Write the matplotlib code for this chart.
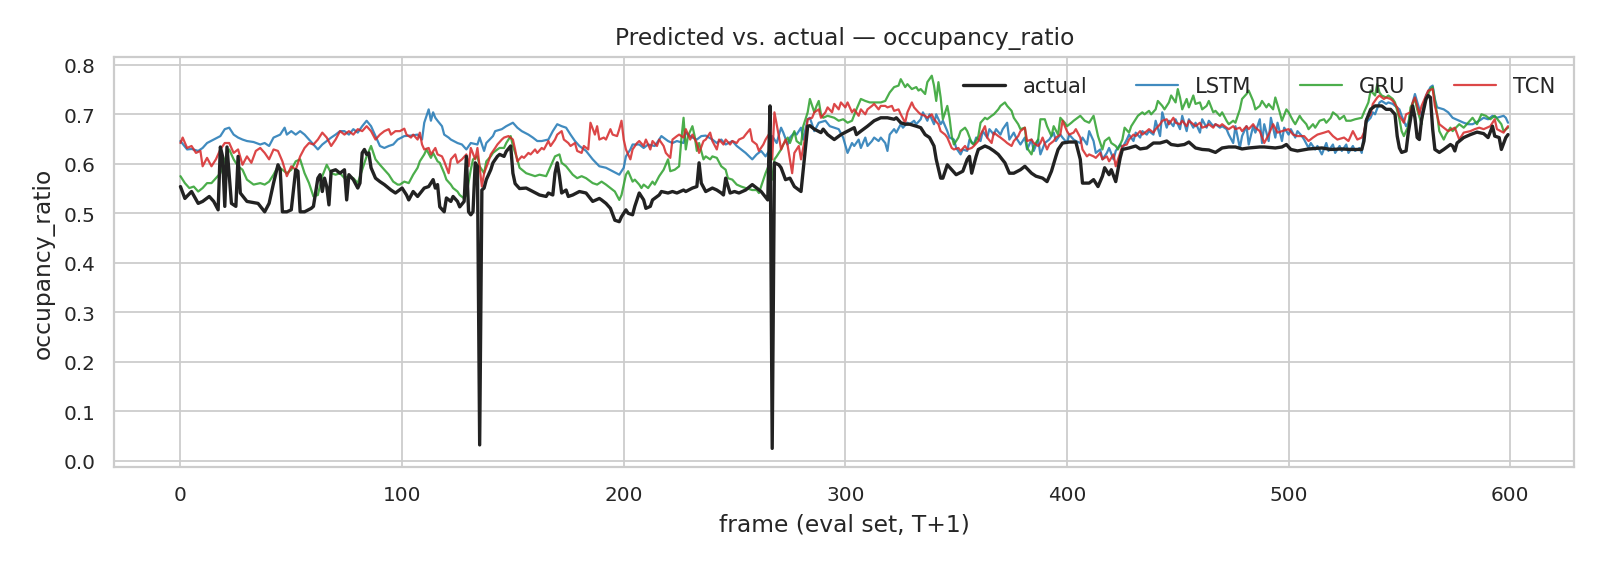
import matplotlib
matplotlib.use("Agg")
import matplotlib.pyplot as plt
import seaborn as sns

# --- data (frame, value) ---
actual_pts = [
    (0, 0.554), (2, 0.530), (5, 0.544), (8, 0.520), (10, 0.524), (13, 0.534), (15, 0.524), (17, 0.507),
    (18, 0.634), (19, 0.615), (20, 0.514), (21, 0.634), (23, 0.520), (25, 0.514), (26, 0.615), (27, 0.541),
    (30, 0.524), (35, 0.520), (38, 0.503), (40, 0.520), (42, 0.561), (44, 0.598), (45, 0.588), (46, 0.503),
    (48, 0.503), (50, 0.507), (52, 0.588), (53, 0.585), (54, 0.503), (56, 0.503), (59, 0.510), (60, 0.514),
    (62, 0.571), (63, 0.578), (64, 0.544), (65, 0.571), (66, 0.554), (67, 0.517), (68, 0.585), (70, 0.588),
    (72, 0.581), (74, 0.588), (75, 0.527), (76, 0.578), (78, 0.568), (80, 0.551), (81, 0.561), (82, 0.622),
    (83, 0.629), (84, 0.619), (85, 0.622), (86, 0.592), (88, 0.571), (90, 0.564), (92, 0.558), (95, 0.547),
    (97, 0.541), (100, 0.551), (102, 0.537), (103, 0.527), (105, 0.544), (107, 0.534), (110, 0.551),
    (112, 0.554), (114, 0.568), (115, 0.551), (116, 0.558), (117, 0.513), (119, 0.503), (120, 0.531),
    (122, 0.524), (123, 0.534), (125, 0.524), (126, 0.513), (128, 0.524), (129, 0.615), (130, 0.503),
    (131, 0.497), (132, 0.503), (133, 0.602), (134, 0.595), (135, 0.032), (136, 0.547), (137, 0.551),
    (138, 0.568), (140, 0.588), (141, 0.602), (143, 0.615), (144, 0.619), (146, 0.615), (147, 0.625),
    (149, 0.636), (150, 0.581), (151, 0.560), (153, 0.550), (156, 0.551), (159, 0.544), (162, 0.537),
    (165, 0.534), (166, 0.541), (168, 0.537), (169, 0.581), (170, 0.602), (171, 0.575), (172, 0.541),
    (174, 0.547), (175, 0.534), (177, 0.537), (180, 0.544), (183, 0.541), (186, 0.524), (189, 0.530),
    (190, 0.527), (192, 0.520), (194, 0.510), (196, 0.486), (198, 0.483), (199, 0.493), (201, 0.507),
    (202, 0.500), (204, 0.497), (205, 0.514), (207, 0.541), (209, 0.527), (210, 0.510), (212, 0.514),
    (213, 0.527), (216, 0.537), (217, 0.544), (220, 0.541), (222, 0.544), (224, 0.541), (227, 0.547),
    (228, 0.544), (231, 0.551), (233, 0.554), (234, 0.602), (235, 0.561), (237, 0.544), (240, 0.551),
    (242, 0.547), (244, 0.541), (245, 0.537), (246, 0.571), (248, 0.541), (250, 0.544), (252, 0.541),
    (255, 0.547), (258, 0.558), (260, 0.551), (262, 0.544), (265, 0.527), (266, 0.717), (267, 0.025),
    (268, 0.602), (270, 0.598), (271, 0.592), (273, 0.568), (275, 0.571), (277, 0.554), (280, 0.544),
    (281, 0.588), (283, 0.676), (284, 0.677), (286, 0.670), (289, 0.663), (290, 0.670), (292, 0.659),
    (295, 0.649), (298, 0.659), (301, 0.666), (304, 0.673), (305, 0.659), (307, 0.666), (310, 0.676),
    (313, 0.687), (316, 0.693), (319, 0.693), (322, 0.690), (323, 0.693), (325, 0.683), (327, 0.680),
    (329, 0.680), (332, 0.676), (334, 0.673), (336, 0.659), (338, 0.653), (340, 0.636), (341, 0.609),
    (343, 0.571), (344, 0.571), (346, 0.598), (348, 0.588), (350, 0.578), (353, 0.585), (355, 0.609),
    (356, 0.615), (357, 0.581), (359, 0.615), (360, 0.629), (363, 0.636), (365, 0.632), (367, 0.626),
    (369, 0.619), (372, 0.602), (374, 0.581), (376, 0.581), (379, 0.588), (381, 0.595), (384, 0.581),
    (386, 0.575), (389, 0.571), (391, 0.564), (393, 0.585), (395, 0.615), (396, 0.629), (398, 0.642),
    (401, 0.644), (404, 0.644), (406, 0.609), (407, 0.561), (410, 0.561), (412, 0.568), (414, 0.554),
    (416, 0.575), (417, 0.592), (419, 0.578), (420, 0.588), (422, 0.564), (424, 0.612), (425, 0.629),
    (428, 0.632), (431, 0.636), (433, 0.630), (436, 0.632), (439, 0.642), (442, 0.642), (445, 0.646),
    (447, 0.639), (450, 0.637), (453, 0.639), (455, 0.644), (458, 0.632), (461, 0.629), (464, 0.628),
    (467, 0.623), (470, 0.632), (473, 0.634), (476, 0.634), (479, 0.630), (482, 0.632), (487, 0.634),
    (489, 0.634), (494, 0.632), (497, 0.634), (499, 0.639), (501, 0.629), (504, 0.626), (509, 0.630),
    (515, 0.632), (519, 0.629), (524, 0.630), (528, 0.629), (533, 0.629), (534, 0.646), (535, 0.687),
    (537, 0.710), (539, 0.717), (542, 0.717), (544, 0.710), (546, 0.710), (548, 0.700), (549, 0.656),
    (550, 0.632), (551, 0.623), (553, 0.626), (554, 0.663), (556, 0.717), (557, 0.693), (558, 0.653),
    (559, 0.649), (560, 0.690), (562, 0.731), (563, 0.738), (564, 0.734), (565, 0.670), (566, 0.629),
    (568, 0.623), (570, 0.629), (573, 0.639), (574, 0.636), (575, 0.626), (576, 0.642), (579, 0.653),
    (582, 0.659), (585, 0.664), (588, 0.661), (590, 0.653), (592, 0.676), (593, 0.656), (595, 0.653),
    (596, 0.629), (598, 0.653), (599, 0.659),
]

lstm_pts = [
    (0, 0.646), (3, 0.629), (5, 0.630), (8, 0.626), (10, 0.632), (12, 0.642), (15, 0.649), (18, 0.656),
    (20, 0.670), (22, 0.673), (24, 0.659), (26, 0.653), (28, 0.649), (30, 0.646), (33, 0.644), (36, 0.639),
    (38, 0.642), (40, 0.636), (42, 0.653), (45, 0.659), (47, 0.673), (48, 0.659), (50, 0.666), (52, 0.659),
    (54, 0.666), (56, 0.659), (58, 0.649), (60, 0.639), (62, 0.629), (64, 0.639), (66, 0.646), (68, 0.653),
    (70, 0.659), (72, 0.666), (74, 0.666), (76, 0.659), (78, 0.670), (80, 0.663), (82, 0.676), (84, 0.687),
    (86, 0.676), (88, 0.656), (90, 0.636), (92, 0.632), (94, 0.636), (96, 0.639), (98, 0.649), (101, 0.656),
    (104, 0.657), (107, 0.659), (109, 0.649), (110, 0.683), (112, 0.710), (113, 0.687), (114, 0.704),
    (115, 0.693), (116, 0.687), (118, 0.676), (119, 0.659), (121, 0.653), (122, 0.649), (125, 0.642),
    (127, 0.639), (129, 0.629), (131, 0.642), (134, 0.639), (135, 0.653), (137, 0.626), (138, 0.642),
    (141, 0.656), (142, 0.666), (145, 0.670), (147, 0.676), (150, 0.683), (152, 0.673), (154, 0.666),
    (157, 0.659), (159, 0.653), (161, 0.646), (163, 0.646), (166, 0.649), (168, 0.666), (170, 0.680),
    (172, 0.676), (174, 0.673), (176, 0.659), (178, 0.646), (180, 0.636), (183, 0.626), (186, 0.609),
    (189, 0.595), (192, 0.592), (195, 0.585), (198, 0.578), (200, 0.592), (201, 0.615), (203, 0.629),
    (204, 0.639), (207, 0.639), (209, 0.632), (211, 0.639), (214, 0.636), (216, 0.649), (217, 0.656),
    (220, 0.646), (222, 0.642), (224, 0.646), (227, 0.642), (228, 0.663), (231, 0.653), (233, 0.649),
    (235, 0.656), (237, 0.657), (240, 0.649), (242, 0.642), (244, 0.649), (246, 0.639), (249, 0.646),
    (251, 0.636), (253, 0.629), (255, 0.622), (258, 0.609), (260, 0.619), (262, 0.626), (264, 0.615),
    (266, 0.629), (267, 0.656), (269, 0.642), (271, 0.673), (272, 0.663), (274, 0.639), (275, 0.653),
    (277, 0.663), (278, 0.659), (280, 0.673), (281, 0.649), (283, 0.690), (284, 0.693), (286, 0.666),
    (288, 0.683), (291, 0.687), (293, 0.676), (295, 0.673), (297, 0.670), (299, 0.653), (301, 0.622),
    (303, 0.642), (304, 0.636), (306, 0.649), (307, 0.632), (309, 0.653), (310, 0.636), (312, 0.646),
    (313, 0.653), (315, 0.646), (316, 0.653), (318, 0.642), (319, 0.626), (320, 0.659), (322, 0.670),
    (323, 0.663), (325, 0.680), (326, 0.673), (328, 0.683), (329, 0.680), (331, 0.687), (332, 0.680),
    (334, 0.690), (335, 0.704), (337, 0.687), (338, 0.700), (340, 0.680), (341, 0.700), (343, 0.680),
    (344, 0.687), (346, 0.666), (347, 0.653), (349, 0.649), (350, 0.632), (352, 0.619), (353, 0.629),
    (355, 0.626), (356, 0.649), (358, 0.639), (359, 0.653), (361, 0.646), (362, 0.666), (364, 0.653),
    (365, 0.670), (367, 0.659), (368, 0.670), (370, 0.659), (371, 0.670), (373, 0.683), (374, 0.649),
    (376, 0.663), (377, 0.653), (379, 0.639), (381, 0.653), (382, 0.629), (384, 0.649), (385, 0.626),
    (387, 0.649), (388, 0.619), (390, 0.642), (392, 0.649), (394, 0.663), (395, 0.646), (397, 0.659),
    (398, 0.653), (400, 0.642), (401, 0.659), (403, 0.649), (404, 0.646), (406, 0.642), (407, 0.653),
    (409, 0.639), (410, 0.666), (412, 0.646), (413, 0.622), (415, 0.629), (416, 0.609), (418, 0.622),
    (419, 0.632), (421, 0.609), (422, 0.626), (424, 0.639), (425, 0.632), (427, 0.649), (428, 0.659),
    (430, 0.646), (431, 0.663), (433, 0.653), (434, 0.666), (436, 0.659), (437, 0.666), (439, 0.659),
    (440, 0.687), (442, 0.656), (443, 0.704), (445, 0.673), (446, 0.687), (448, 0.676), (449, 0.690),
    (451, 0.670), (452, 0.697), (454, 0.666), (455, 0.690), (457, 0.673), (458, 0.683), (460, 0.663),
    (461, 0.690), (463, 0.673), (464, 0.687), (466, 0.676), (467, 0.680), (469, 0.673), (470, 0.676),
    (472, 0.670), (473, 0.659), (475, 0.642), (476, 0.676), (478, 0.632), (479, 0.656), (481, 0.676),
    (482, 0.639), (484, 0.676), (485, 0.663), (487, 0.690), (488, 0.642), (489, 0.680), (491, 0.646),
    (492, 0.693), (494, 0.653), (495, 0.683), (497, 0.646), (498, 0.673), (500, 0.659), (501, 0.670),
    (503, 0.653), (504, 0.666), (506, 0.656), (507, 0.649), (509, 0.632), (510, 0.642), (512, 0.629),
    (513, 0.636), (515, 0.619), (517, 0.642), (518, 0.626), (520, 0.639), (521, 0.622), (523, 0.636),
    (524, 0.626), (526, 0.639), (527, 0.622), (529, 0.636), (530, 0.626), (532, 0.632), (533, 0.622),
    (534, 0.663), (535, 0.683), (537, 0.693), (538, 0.704), (539, 0.700), (541, 0.724), (542, 0.727),
    (544, 0.721), (545, 0.724), (547, 0.721), (548, 0.717), (550, 0.710), (551, 0.697), (553, 0.676),
    (554, 0.683), (556, 0.724), (557, 0.741), (559, 0.710), (560, 0.697), (562, 0.738), (564, 0.755),
    (565, 0.758), (566, 0.731), (567, 0.714), (570, 0.710), (572, 0.704), (574, 0.693), (577, 0.687),
    (579, 0.683), (581, 0.680), (583, 0.680), (586, 0.687), (588, 0.693), (590, 0.690), (592, 0.697),
    (594, 0.693), (597, 0.697), (598, 0.693), (599, 0.683),
]

gru_pts = [
    (0, 0.575), (2, 0.561), (4, 0.551), (6, 0.554), (8, 0.544), (10, 0.551), (12, 0.561), (14, 0.561),
    (16, 0.571), (18, 0.581), (20, 0.609), (22, 0.629), (24, 0.609), (26, 0.595), (28, 0.588), (30, 0.568),
    (33, 0.558), (36, 0.561), (38, 0.558), (40, 0.564), (42, 0.578), (44, 0.595), (46, 0.588), (48, 0.581),
    (50, 0.588), (52, 0.605), (54, 0.609), (56, 0.581), (58, 0.561), (60, 0.534), (62, 0.537), (64, 0.575),
    (66, 0.598), (68, 0.581), (70, 0.578), (72, 0.581), (74, 0.571), (76, 0.575), (78, 0.571), (80, 0.561),
    (82, 0.588), (84, 0.615), (86, 0.636), (88, 0.609), (90, 0.598), (92, 0.588), (94, 0.578), (96, 0.564),
    (98, 0.558), (99, 0.558), (101, 0.564), (103, 0.561), (105, 0.578), (107, 0.592), (108, 0.605),
    (110, 0.619), (111, 0.629), (113, 0.612), (114, 0.622), (116, 0.605), (117, 0.602), (119, 0.581),
    (120, 0.568), (122, 0.558), (123, 0.551), (125, 0.544), (126, 0.537), (128, 0.530), (129, 0.537),
    (131, 0.588), (132, 0.609), (134, 0.615), (135, 0.595), (137, 0.581), (138, 0.605), (140, 0.615),
    (141, 0.622), (143, 0.629), (144, 0.632), (146, 0.632), (147, 0.642), (149, 0.656), (150, 0.636),
    (152, 0.609), (153, 0.592), (156, 0.581), (158, 0.578), (160, 0.575), (162, 0.578), (165, 0.575),
    (166, 0.585), (168, 0.605), (169, 0.615), (171, 0.619), (172, 0.602), (174, 0.595), (177, 0.578),
    (179, 0.571), (181, 0.575), (183, 0.571), (186, 0.561), (188, 0.558), (190, 0.564), (192, 0.558),
    (194, 0.551), (196, 0.544), (198, 0.527), (199, 0.537), (201, 0.578), (202, 0.585), (204, 0.564),
    (205, 0.568), (207, 0.558), (208, 0.551), (209, 0.558), (211, 0.551), (213, 0.564), (214, 0.558),
    (216, 0.575), (218, 0.588), (220, 0.609), (221, 0.585), (223, 0.588), (225, 0.595), (226, 0.649),
    (227, 0.693), (228, 0.629), (229, 0.656), (231, 0.676), (232, 0.656), (233, 0.626), (234, 0.642),
    (236, 0.609), (237, 0.615), (239, 0.609), (240, 0.615), (242, 0.612), (244, 0.595), (246, 0.588),
    (247, 0.571), (249, 0.568), (251, 0.558), (253, 0.554), (255, 0.551), (258, 0.547), (260, 0.547),
    (261, 0.541), (263, 0.568), (264, 0.581), (265, 0.592), (267, 0.568), (268, 0.609), (269, 0.615),
    (271, 0.629), (272, 0.639), (274, 0.653), (275, 0.642), (277, 0.666), (278, 0.646), (280, 0.639),
    (281, 0.676), (283, 0.704), (284, 0.731), (286, 0.704), (287, 0.717), (288, 0.727), (289, 0.700),
    (290, 0.693), (292, 0.697), (295, 0.693), (297, 0.687), (299, 0.690), (301, 0.683), (303, 0.687),
    (305, 0.710), (307, 0.731), (309, 0.727), (311, 0.724), (313, 0.724), (316, 0.724), (318, 0.727),
    (320, 0.744), (322, 0.755), (324, 0.758), (325, 0.771), (327, 0.755), (328, 0.761), (330, 0.751),
    (332, 0.755), (333, 0.748), (334, 0.751), (336, 0.741), (337, 0.765), (339, 0.778), (340, 0.758),
    (341, 0.727), (342, 0.765), (343, 0.734), (344, 0.690), (346, 0.717), (347, 0.693), (348, 0.656),
    (349, 0.639), (351, 0.653), (352, 0.666), (354, 0.673), (355, 0.666), (357, 0.642), (358, 0.639),
    (360, 0.656), (361, 0.683), (363, 0.693), (364, 0.690), (366, 0.697), (367, 0.700), (369, 0.710),
    (370, 0.717), (372, 0.724), (373, 0.717), (375, 0.707), (376, 0.693), (378, 0.680), (379, 0.670),
    (381, 0.673), (382, 0.632), (384, 0.619), (385, 0.636), (387, 0.649), (388, 0.690), (390, 0.690),
    (391, 0.676), (393, 0.656), (394, 0.676), (396, 0.659), (397, 0.693), (399, 0.683), (400, 0.676),
    (402, 0.683), (403, 0.687), (406, 0.697), (408, 0.687), (410, 0.683), (412, 0.697), (414, 0.656),
    (416, 0.629), (417, 0.646), (419, 0.653), (420, 0.642), (422, 0.636), (423, 0.629), (425, 0.649),
    (426, 0.673), (428, 0.663), (429, 0.676), (431, 0.690), (432, 0.697), (434, 0.704), (435, 0.700),
    (437, 0.707), (438, 0.700), (440, 0.710), (441, 0.727), (443, 0.717), (444, 0.710), (446, 0.724),
    (447, 0.738), (449, 0.724), (450, 0.751), (451, 0.734), (452, 0.710), (454, 0.731), (455, 0.714),
    (457, 0.738), (458, 0.721), (460, 0.724), (461, 0.710), (463, 0.717), (464, 0.727), (466, 0.704),
    (467, 0.707), (469, 0.697), (470, 0.704), (472, 0.687), (473, 0.680), (475, 0.687), (476, 0.683),
    (478, 0.710), (479, 0.731), (481, 0.741), (482, 0.748), (484, 0.727), (485, 0.710), (487, 0.717),
    (488, 0.727), (490, 0.714), (491, 0.721), (493, 0.710), (494, 0.734), (496, 0.704), (497, 0.687),
    (499, 0.710), (500, 0.704), (502, 0.687), (503, 0.680), (505, 0.697), (506, 0.690), (508, 0.680),
    (509, 0.670), (511, 0.680), (512, 0.673), (514, 0.687), (516, 0.690), (517, 0.683), (519, 0.693),
    (520, 0.704), (522, 0.697), (523, 0.690), (525, 0.697), (526, 0.687), (528, 0.687), (530, 0.690),
    (533, 0.693), (534, 0.704), (536, 0.724), (537, 0.748), (539, 0.738), (540, 0.761), (541, 0.744),
    (542, 0.738), (544, 0.734), (545, 0.738), (547, 0.731), (548, 0.724), (550, 0.690), (551, 0.666),
    (552, 0.656), (554, 0.676), (555, 0.714), (557, 0.731), (558, 0.710), (560, 0.680), (561, 0.717),
    (563, 0.741), (564, 0.751), (565, 0.755), (567, 0.700), (568, 0.666), (570, 0.649), (571, 0.659),
    (573, 0.673), (574, 0.666), (577, 0.680), (579, 0.673), (581, 0.683), (583, 0.693), (585, 0.680),
    (587, 0.700), (589, 0.697), (591, 0.690), (593, 0.697), (596, 0.680), (597, 0.666), (599, 0.673),
]

tcn_pts = [
    (0, 0.642), (1, 0.653), (3, 0.632), (5, 0.636), (7, 0.622), (9, 0.626), (10, 0.595), (12, 0.612),
    (14, 0.595), (16, 0.609), (18, 0.629), (20, 0.642), (22, 0.642), (24, 0.622), (26, 0.629), (28, 0.598),
    (30, 0.615), (32, 0.602), (34, 0.626), (36, 0.632), (38, 0.622), (40, 0.609), (42, 0.629), (44, 0.626),
    (46, 0.605), (48, 0.575), (50, 0.595), (52, 0.588), (54, 0.615), (56, 0.632), (58, 0.642), (60, 0.639),
    (62, 0.649), (64, 0.663), (66, 0.653), (68, 0.636), (70, 0.649), (72, 0.666), (74, 0.659), (76, 0.666),
    (78, 0.659), (80, 0.670), (82, 0.666), (84, 0.676), (86, 0.666), (88, 0.649), (90, 0.659), (92, 0.666),
    (94, 0.670), (95, 0.659), (97, 0.666), (99, 0.666), (101, 0.671), (102, 0.659), (104, 0.653),
    (105, 0.659), (107, 0.649), (108, 0.663), (109, 0.639), (110, 0.629), (112, 0.632), (113, 0.619),
    (115, 0.632), (116, 0.619), (118, 0.615), (119, 0.605), (121, 0.581), (122, 0.609), (124, 0.619),
    (125, 0.602), (127, 0.609), (129, 0.619), (130, 0.595), (131, 0.632), (133, 0.609), (134, 0.632),
    (136, 0.554), (137, 0.581), (139, 0.605), (140, 0.619), (142, 0.632), (143, 0.639), (145, 0.649),
    (146, 0.653), (148, 0.656), (150, 0.649), (151, 0.629), (152, 0.605), (154, 0.615), (155, 0.612),
    (157, 0.622), (158, 0.619), (160, 0.629), (161, 0.622), (163, 0.632), (164, 0.629), (166, 0.646),
    (167, 0.636), (169, 0.649), (170, 0.659), (172, 0.666), (173, 0.649), (175, 0.642), (176, 0.636),
    (178, 0.642), (179, 0.626), (181, 0.622), (182, 0.636), (184, 0.629), (185, 0.683), (187, 0.659),
    (188, 0.676), (189, 0.649), (191, 0.653), (192, 0.649), (194, 0.670), (195, 0.659), (197, 0.656),
    (198, 0.670), (199, 0.687), (200, 0.649), (201, 0.629), (203, 0.609), (204, 0.629), (206, 0.642),
    (207, 0.646), (209, 0.636), (210, 0.649), (212, 0.629), (213, 0.646), (215, 0.636), (216, 0.649),
    (218, 0.636), (219, 0.622), (221, 0.612), (222, 0.649), (224, 0.656), (225, 0.659), (227, 0.653),
    (228, 0.670), (230, 0.649), (231, 0.659), (233, 0.642), (234, 0.622), (236, 0.646), (237, 0.649),
    (239, 0.663), (240, 0.646), (242, 0.629), (243, 0.649), (245, 0.639), (246, 0.649), (248, 0.639),
    (249, 0.646), (251, 0.642), (252, 0.649), (254, 0.653), (255, 0.659), (257, 0.670), (258, 0.646),
    (260, 0.639), (261, 0.626), (263, 0.639), (264, 0.649), (266, 0.663), (267, 0.609), (268, 0.704),
    (270, 0.656), (271, 0.629), (273, 0.649), (274, 0.636), (276, 0.581), (277, 0.622), (279, 0.636),
    (280, 0.609), (282, 0.656), (283, 0.690), (285, 0.693), (286, 0.704), (288, 0.710), (289, 0.693),
    (291, 0.704), (292, 0.714), (294, 0.704), (295, 0.721), (297, 0.710), (298, 0.724), (300, 0.714),
    (301, 0.724), (303, 0.704), (304, 0.710), (306, 0.697), (307, 0.710), (309, 0.700), (310, 0.710),
    (312, 0.717), (313, 0.721), (315, 0.710), (316, 0.717), (318, 0.717), (319, 0.714), (321, 0.717),
    (322, 0.707), (324, 0.710), (325, 0.700), (327, 0.683), (328, 0.704), (330, 0.724), (331, 0.714),
    (333, 0.704), (334, 0.700), (336, 0.697), (337, 0.693), (339, 0.700), (340, 0.690), (342, 0.680),
    (343, 0.666), (345, 0.659), (346, 0.653), (348, 0.632), (349, 0.629), (351, 0.632), (352, 0.626),
    (354, 0.636), (355, 0.629), (357, 0.632), (358, 0.636), (360, 0.646), (361, 0.659), (363, 0.676),
    (364, 0.653), (366, 0.642), (367, 0.663), (369, 0.656), (370, 0.653), (372, 0.646), (373, 0.642),
    (375, 0.636), (376, 0.646), (378, 0.656), (379, 0.666), (381, 0.673), (382, 0.646), (384, 0.649),
    (385, 0.642), (387, 0.636), (388, 0.642), (389, 0.653), (391, 0.629), (392, 0.639), (394, 0.646),
    (395, 0.653), (397, 0.659), (398, 0.687), (400, 0.666), (401, 0.659), (403, 0.663), (404, 0.670),
    (406, 0.653), (407, 0.629), (409, 0.615), (410, 0.619), (412, 0.615), (413, 0.612), (415, 0.622),
    (416, 0.609), (418, 0.615), (419, 0.605), (421, 0.619), (422, 0.595), (424, 0.622), (425, 0.636),
    (427, 0.639), (428, 0.649), (430, 0.659), (431, 0.656), (433, 0.666), (434, 0.659), (436, 0.666),
    (437, 0.670), (439, 0.663), (440, 0.670), (442, 0.680), (443, 0.687), (445, 0.690), (446, 0.680),
    (448, 0.693), (449, 0.683), (451, 0.680), (452, 0.687), (454, 0.676), (455, 0.687), (457, 0.680),
    (458, 0.676), (460, 0.683), (461, 0.673), (463, 0.676), (464, 0.680), (466, 0.673), (467, 0.680),
    (469, 0.676), (470, 0.680), (472, 0.673), (473, 0.670), (475, 0.676), (476, 0.670), (478, 0.673),
    (479, 0.666), (481, 0.676), (482, 0.670), (484, 0.680), (485, 0.673), (487, 0.666), (489, 0.642),
    (491, 0.659), (493, 0.680), (495, 0.663), (497, 0.666), (500, 0.670), (502, 0.659), (504, 0.656),
    (507, 0.656), (509, 0.646), (511, 0.653), (513, 0.659), (516, 0.663), (518, 0.666), (520, 0.656),
    (522, 0.649), (525, 0.653), (527, 0.646), (529, 0.666), (531, 0.649), (533, 0.653), (534, 0.663),
    (535, 0.690), (537, 0.700), (538, 0.721), (540, 0.734), (541, 0.738), (543, 0.731), (544, 0.734),
    (546, 0.731), (547, 0.727), (549, 0.714), (550, 0.697), (552, 0.683), (553, 0.700), (555, 0.704),
    (556, 0.724), (557, 0.734), (559, 0.700), (560, 0.717), (562, 0.738), (563, 0.748), (565, 0.751),
    (566, 0.717), (568, 0.680), (570, 0.673), (572, 0.666), (575, 0.673), (577, 0.649), (579, 0.663),
    (582, 0.666), (584, 0.670), (586, 0.673), (588, 0.670), (591, 0.676), (593, 0.690), (594, 0.670),
    (597, 0.663), (598, 0.670), (599, 0.676),
]

series_names = ["actual", "LSTM", "GRU", "TCN"]
series_pts = [actual_pts, lstm_pts, gru_pts, tcn_pts]
series_colors = ["#222222", "#1f77b4", "#2ca02c", "#d62728"]

# --- figure ---
sns.set_theme(style="whitegrid", context="paper")

fig, ax = plt.subplots(figsize=(10, 3.556), dpi=160)
fig.subplots_adjust(left=0.0713, right=0.984, top=0.898, bottom=0.1775)

for name, pts, col in zip(series_names, series_pts, series_colors):
    xs = [p[0] for p in pts]
    ys = [p[1] for p in pts]
    if name == "actual":
        ax.plot(xs, ys, color=col, lw=1.5, label=name, zorder=3)
    else:
        ax.plot(xs, ys, color=col, lw=1.0, alpha=0.85, label=name, zorder=2)

ax.set_title("Predicted vs. actual — occupancy_ratio", fontsize=10.5)
ax.set_xlabel("frame (eval set, T+1)", fontsize=10.5)
ax.set_ylabel("occupancy_ratio", fontsize=10.5)
ax.tick_params(labelsize=9)
ax.legend(loc="upper right", ncol=4, frameon=False, fontsize=9.5, columnspacing=2.3)

fig.savefig("out.png", dpi=160)
